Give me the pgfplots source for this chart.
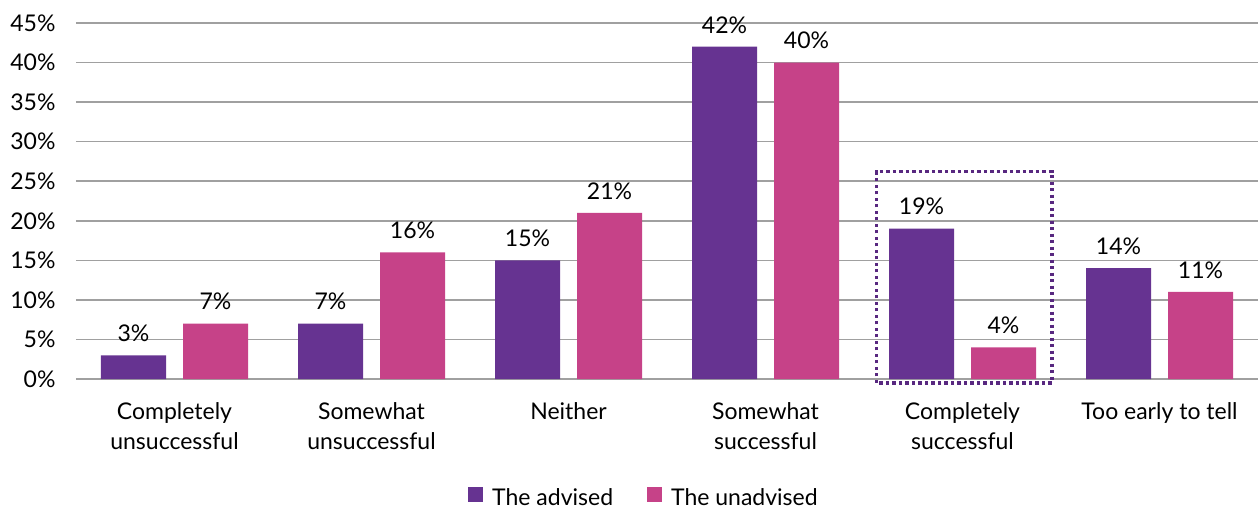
\documentclass[border=0pt]{standalone}
\usepackage{pgfplots}
\pgfplotsset{compat=1.18}
\usepackage{fontspec}
\setmainfont{Lato}

\definecolor{advised}{RGB}{102,51,145}
\definecolor{unadvised}{RGB}{198,66,136}
\definecolor{gridgray}{RGB}{160,160,160}
\definecolor{boxpurple}{RGB}{88,40,128}

\newcommand{\chartfont}{\fontsize{23bp}{30bp}\selectfont}

\begin{document}
\begin{tikzpicture}
\path[use as bounding box] (-76bp,-133bp) rectangle (1184bp,379bp);
\begin{axis}[
  at={(0,0)}, anchor=south west,
  scale only axis, width=1182bp, height=356bp,
  ybar=17bp, bar width=65bp,
  xmin=-0.5, xmax=5.5, ymin=0, ymax=45,
  clip=false,
  axis line style={draw=none},
  tick style={draw=none},
  ymajorgrids, major grid style={gridgray, line width=1.5bp},
  ytick={0,5,...,45},
  yticklabel={\pgfmathprintnumber{\tick}\%},
  yticklabel style={font=\chartfont, xshift=-17bp},
  xtick={0,1,2,3,4,5},
  xticklabels={Completely\\unsuccessful, Somewhat\\unsuccessful, Neither, Somewhat\\successful, Completely\\successful, Too early to tell},
  xticklabel style={font=\chartfont, align=center, anchor=north, yshift=-16bp},
  /pgf/number format/assume math mode=true,
  nodes near coords={\pgfmathprintnumber{\pgfplotspointmeta}\%},
  every node near coord/.append style={font=\chartfont, black, yshift=10bp},
  legend style={at={(0.4805,-0.335)}, anchor=center, draw=none, font=\chartfont,
    /tikz/every even column/.append style={column sep=32bp}},
  legend columns=2,
  legend image code/.code={%
    \fill[#1] (0bp,-4bp) rectangle (15bp,11bp);
    \path (22bp,0bp);},
]
% share of respondents in each outcome group (percent)
\addplot[fill=advised, draw=none] coordinates {(0,3) (1,7) (2,15) (3,42) (4,19) (5,14)};
\addplot[fill=unadvised, draw=none] coordinates {(0,7) (1,16) (2,21) (3,40) (4,4) (5,11)};
\legend{The advised, The unadvised}
% highlight around the "Completely successful" group
\draw[boxpurple, line width=3.5bp, dash pattern=on 3.3bp off 3.2bp]
  (axis cs:3.564,-0.5) rectangle (axis cs:4.454,26.2);
\end{axis}
\end{tikzpicture}
\end{document}
